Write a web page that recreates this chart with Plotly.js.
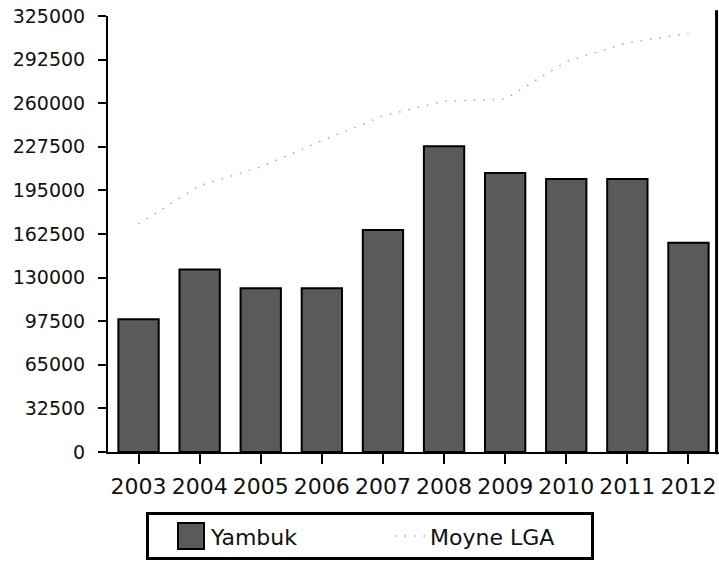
<!DOCTYPE html>
<html>
<head>
<meta charset="utf-8">
<script src="https://cdn.plot.ly/plotly-3.0.1.min.js"></script>
<style>html,body{margin:0;padding:0;background:#fff;}#chart{width:719px;height:571px;}</style>
</head>
<body>
<div id="chart"></div>
<script>
const years = ['2003','2004','2005','2006','2007','2008','2009','2010','2011','2012'];
const yambuk = [99000, 136000, 122000, 122000, 165500, 228000, 208000, 203500, 203500, 156000];
const moyneLGA = [170000, 198500, 212500, 232000, 250500, 261500, 263000, 291000, 305000, 312000];
const yTicks = [0, 32500, 65000, 97500, 130000, 162500, 195000, 227500, 260000, 292500, 325000];

const font = 'DejaVu Sans, Arial, sans-serif';

const traces = [
  {
    type: 'bar', name: 'Yambuk', x: years, y: yambuk,
    marker: {color: '#5a5a5a', line: {color: '#000', width: 2}},
    width: 0.66
  },
  {
    type: 'scatter', mode: 'lines', name: 'Moyne LGA', x: years, y: moyneLGA,
    line: {color: '#a8a8a8', width: 1.5, dash: '1.5px,8px'}
  }
];

const layout = {
  width: 719, height: 571,
  margin: {l: 108, r: 0, t: 16, b: 119},
  paper_bgcolor: '#fff', plot_bgcolor: '#fff',
  font: {family: font, color: '#111'},
  xaxis: {
    type: 'category', range: [-0.5, 9.5],
    showline: true, linecolor: '#000', linewidth: 2,
    ticks: 'outside', ticklen: 10, tickwidth: 2, tickcolor: '#000',
    tickfont: {size: 22, family: font, color: '#111'},
    ticklabelstandoff: 4,
    showgrid: false, zeroline: false, fixedrange: true
  },
  yaxis: {
    range: [0, 325000],
    tickvals: yTicks, ticktext: yTicks.map(String),
    showline: true, linecolor: '#000', linewidth: 2,
    ticks: 'outside', ticklen: 8, tickwidth: 2, tickcolor: '#000',
    tickfont: {size: 19, family: font, color: '#111'},
    ticklabelstandoff: 9,
    showgrid: false, zeroline: false, fixedrange: true
  },
  showlegend: true,
  legend: {
    orientation: 'h', x: 38 / 611, xanchor: 'left', y: -0.138, yanchor: 'top',
    bordercolor: '#000', borderwidth: 3, bgcolor: '#fff',
    font: {size: 22, family: font, color: '#111'},
    entrywidth: 196, entrywidthmode: 'pixels',
    traceorder: 'normal'
  },
  shapes: [
    {type: 'line', xref: 'paper', yref: 'paper', x0: 0.996, x1: 0.996, y0: -0.005, y1: 1.013,
     line: {color: '#000', width: 3}}
  ]
};

Plotly.newPlot('chart', traces, layout, {displayModeBar: false, staticPlot: true}).then(function (gd) {
  const items = gd.querySelectorAll('.legend .traces');
  if (items.length) {
    // enlarge the bar swatch in the legend to match the reference's big square
    const p = items[0].querySelector('.legendpoints path');
    if (p) p.setAttribute('d', 'M13,13H-13V-13H13Z');
    // nudge the first legend entry right, as in the reference
    const tr = items[0].getAttribute('transform') || '';
    const m = tr.match(/translate\(\s*([-\d.]+)[ ,]+([-\d.]+)\s*\)/);
    if (m) items[0].setAttribute('transform', 'translate(' + (parseFloat(m[1]) + 22) + ',' + m[2] + ')');
  }
  // trim the legend frame to the reference width
  const bg = gd.querySelector('.legend rect.bg');
  if (bg) bg.setAttribute('width', '445');
});
</script>
</body>
</html>
